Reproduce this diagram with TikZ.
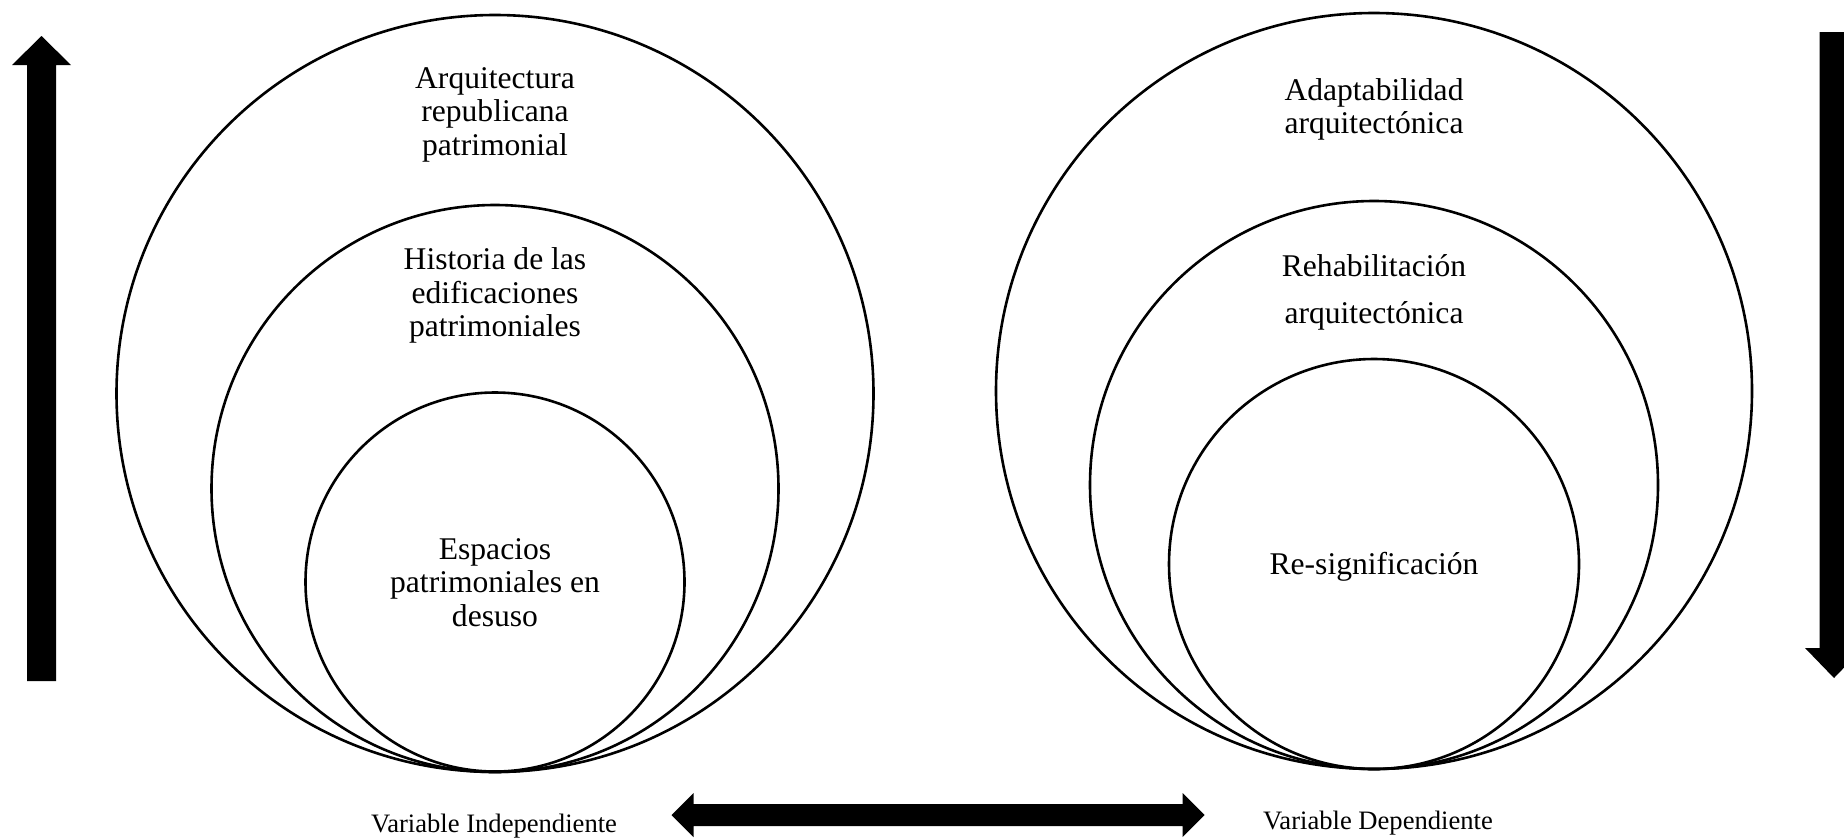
\documentclass[tikz,border=0pt]{standalone}
\usepackage{fontspec}
\setmainfont{Liberation Serif}
\begin{document}
\begin{tikzpicture}[x=1pt,y=-1pt,
  ring/.style={draw=black,line width=2.6pt},
  lbl/.style={align=center,font=\fontsize{31.6}{33.5}\selectfont,inner sep=0pt},
  varlbl/.style={font=\fontsize{26.6}{28}\selectfont,inner sep=0pt},
  blk/.style={fill=black,draw=none}]
\useasboundingbox (0,0) rectangle (1844,839);
% left circles
\draw[ring] (495,393.5) circle (378.5);
\draw[ring] (495,488.5) circle (283.5);
\draw[ring] (495,582) circle (189.5);
% right circles
\draw[ring] (1374,391) circle (378);
\draw[ring] (1374,485) circle (284);
\draw[ring] (1374,564) circle (205);
% texts
\node[lbl] (arq) at (495,114.5) {Arquitectura\\republicana\\patrimonial};
\node[lbl] (his) at (495,295.5) {Historia de las\\edificaciones\\patrimoniales};
\node[lbl] (esp) at (495,582.5) {Espacios\\patrimoniales en\\desuso};
\node[lbl] (ada) at (1374,109.5) {Adaptabilidad\\arquitectónica};
\node[lbl] (reh) at (1374,292.5) {Rehabilitación\\[14pt]arquitectónica};
\node[lbl] (res) at (1374,566.5) {Re-significación};
\node[varlbl] (vi) at (494,826.5) {Variable Independiente};
\node[varlbl] (vd) at (1378,823.5) {Variable Dependiente};
% left vertical arrow (up)
\fill[blk] (27,681) -- (27,65) -- (12,65) -- (41.5,36) -- (71,65) -- (56,65) -- (56,681) -- cycle;
% right vertical arrow (down)
\fill[blk] (1819.5,32) -- (1819.5,648) -- (1805,648) -- (1834,678) -- (1863,648) -- (1848.5,648) -- (1848.5,32) -- cycle;
% horizontal double arrow
\fill[blk] (671.5,815) -- (693.5,793) -- (693.5,804) -- (1182.5,804) -- (1182.5,793) -- (1204.5,815)
  -- (1182.5,837) -- (1182.5,826) -- (693.5,826) -- (693.5,837) -- cycle;
\end{tikzpicture}
\end{document}
